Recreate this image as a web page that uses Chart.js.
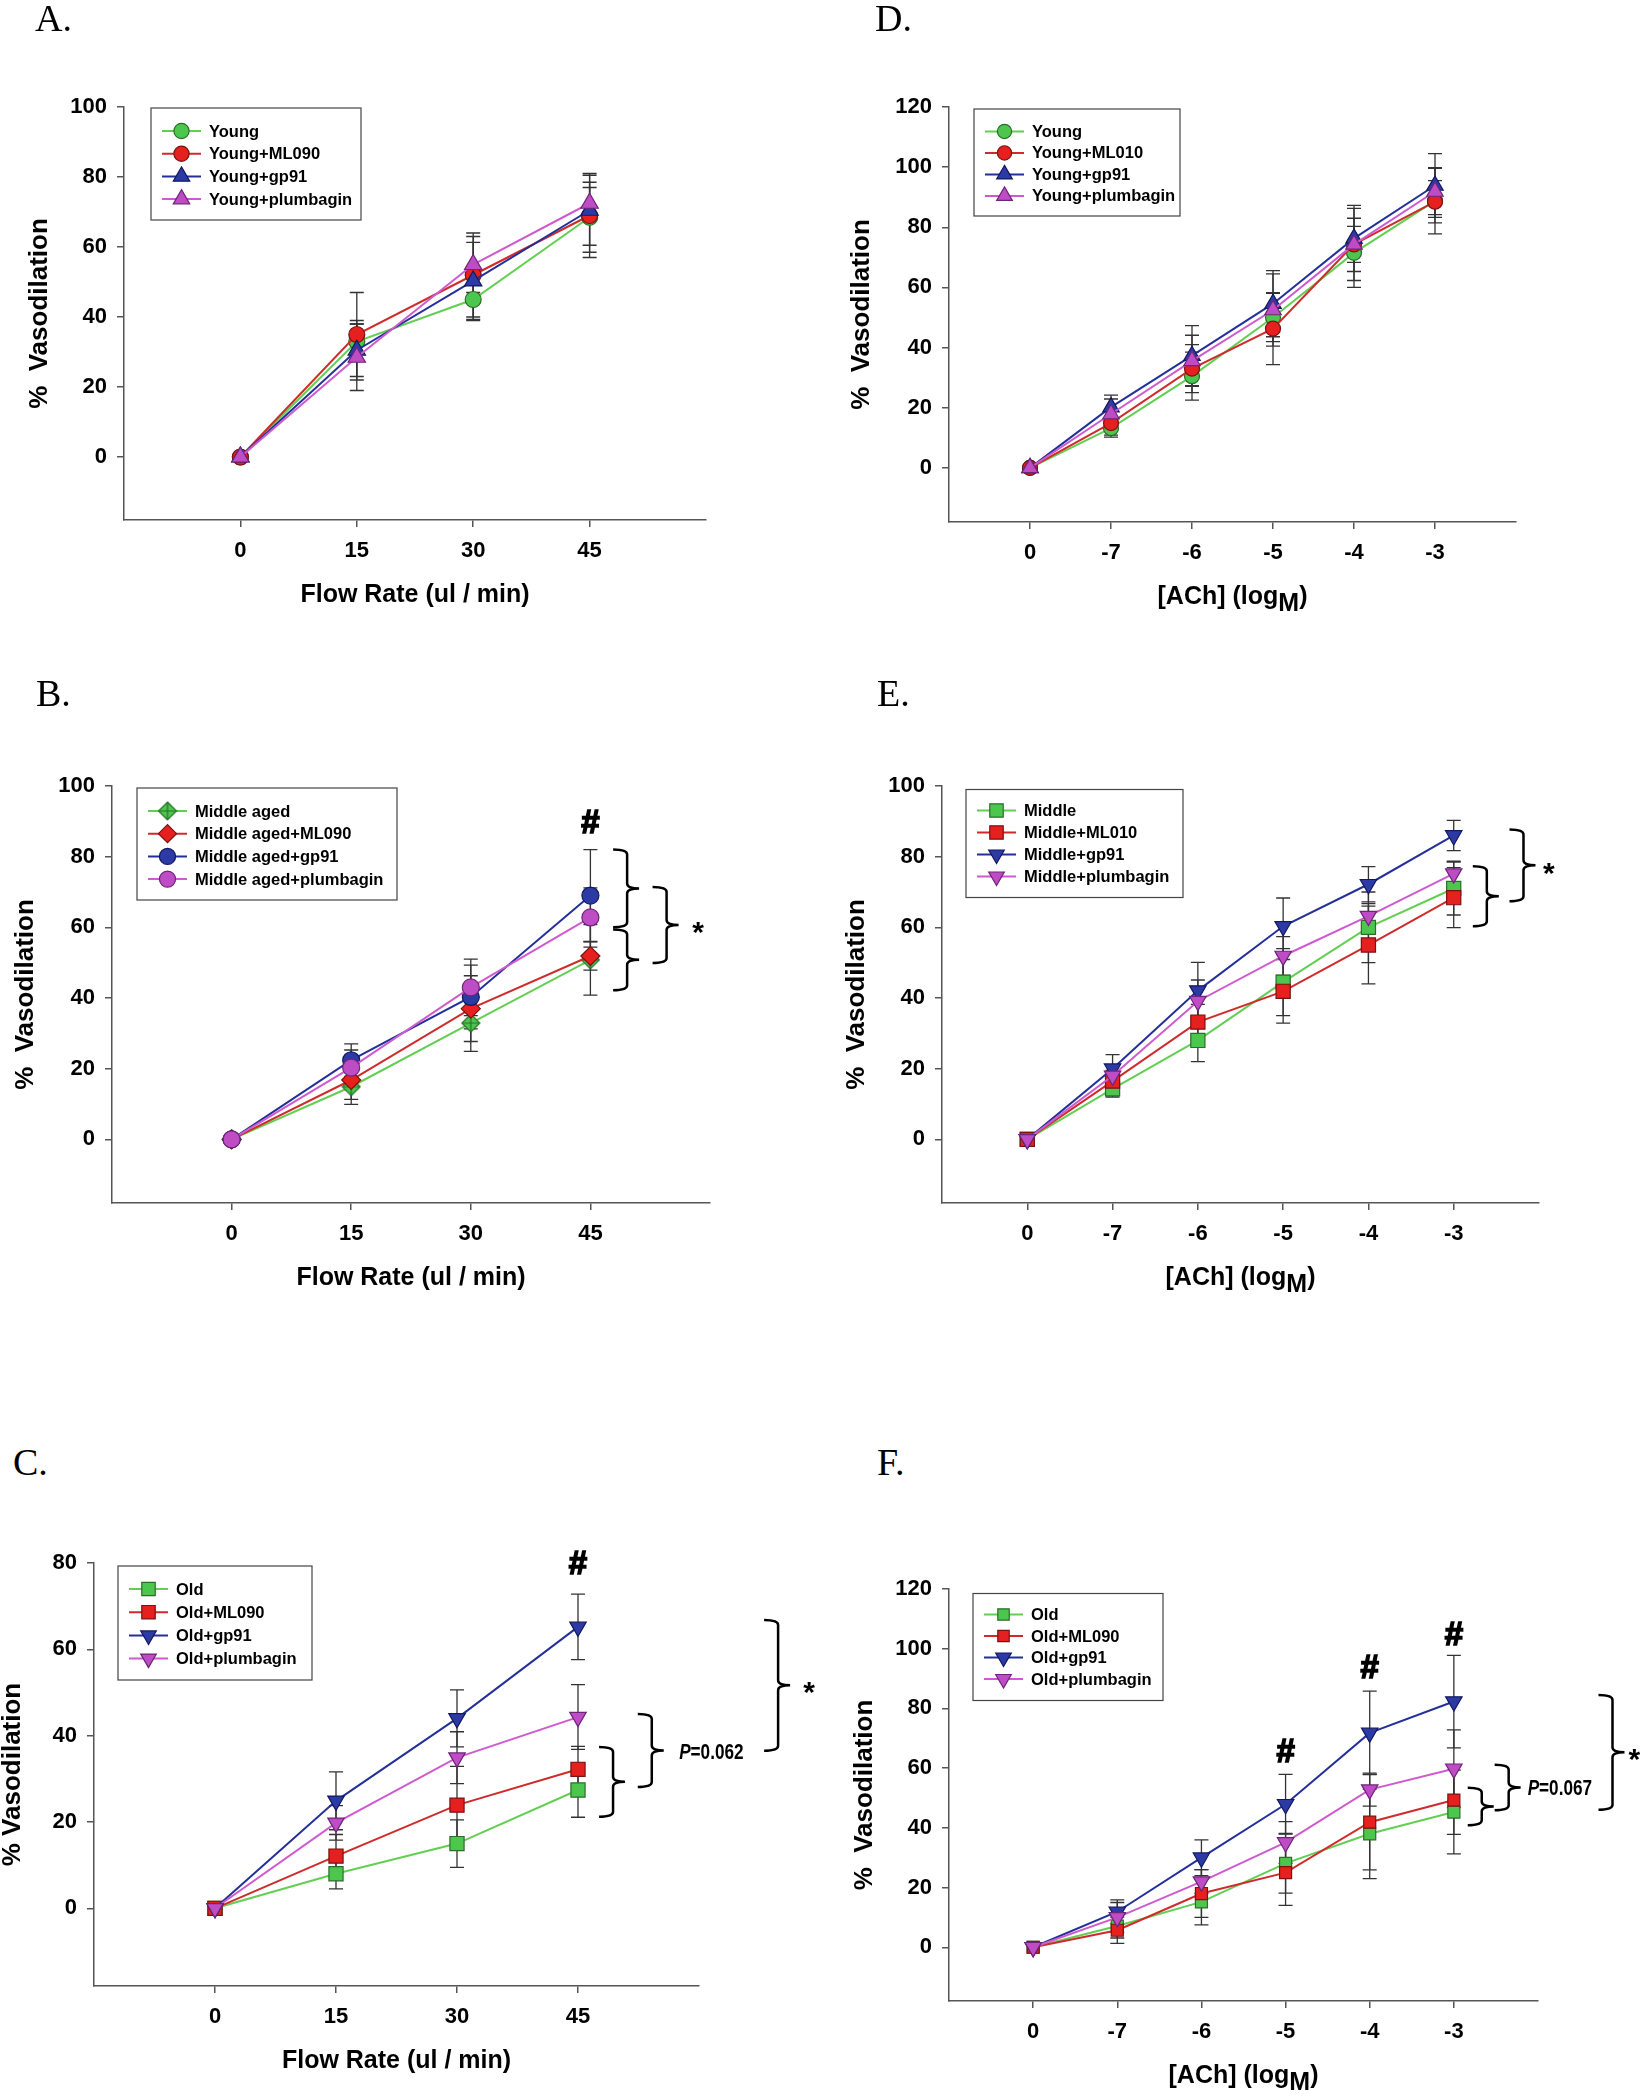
<!DOCTYPE html>
<html>
<head>
<meta charset="utf-8">
<title>Vasodilation panels</title>
<script src="https://cdn.jsdelivr.net/npm/chart.js@4.4.1/dist/chart.umd.min.js"></script>
<style>
  html, body { margin: 0; padding: 0; background: #fff; }
  body { width: 1643px; height: 2100px; position: relative; overflow: hidden; }
  canvas { position: absolute; }
  .tag { position: absolute; font-family: 'Liberation Serif', 'Times New Roman', serif; font-size: 38px; line-height: 38px; color: #000; z-index: 2; }
</style>
</head>
<body>
<div class="tag" style="left:35px;top:-1px">A.</div>
<div class="tag" style="left:875px;top:-1px">D.</div>
<div class="tag" style="left:36px;top:674px">B.</div>
<div class="tag" style="left:877px;top:674px">E.</div>
<div class="tag" style="left:13px;top:1443px">C.</div>
<div class="tag" style="left:877px;top:1443px">F.</div>

<canvas id="chartA"></canvas>
<canvas id="chartD"></canvas>
<canvas id="chartB"></canvas>
<canvas id="chartE"></canvas>
<canvas id="chartC"></canvas>
<canvas id="chartF"></canvas>

<script>
'use strict';

// categories (x axis)
let flowRates = ['0', '15', '30', '45'];
let achDoses = ['0', '-7', '-6', '-5', '-4', '-3'];

// y tick labels
let ticksTo80 = [0, 20, 40, 60, 80];
let ticksTo100 = [0, 20, 40, 60, 80, 100];
let ticksTo120 = [0, 20, 40, 60, 80, 100, 120];

// A. young, flow
let aYoung = [0, 33, 45, 68.5];
let aYoungErr = [0, 5, 6, 10];
let aYoungMl = [0, 35, 52, 69];
let aYoungMlErr = [0, 12, 12, 12];
let aYoungGp = [0, 30.5, 50.3, 70.5];
let aYoungGpErr = [0, 8.5, 11, 10];
let aYoungPl = [0, 28.5, 55, 72.5];
let aYoungPlErr = [0, 9.5, 8, 4.5];

// D. young, ACh
let dYoung = [0, 13.2, 30.5, 50, 71.5, 88.8];
let dYoungErr = [0, 3, 8, 8, 11.5, 11];
let dYoungMl = [0, 14.9, 33, 46.3, 74.3, 88.5];
let dYoungMlErr = [0, 4, 8, 12, 6, 7];
let dYoungGp = [0, 20.2, 37.3, 54.6, 76.3, 93.9];
let dYoungGpErr = [0, 4, 10, 11, 11, 10.6];
let dYoungPl = [0, 17.9, 35.6, 52.5, 74.3, 91.9];
let dYoungPlErr = [0, 5, 8.5, 12, 12, 7.7];

// B. middle aged, flow
let bMid = [0, 14.9, 32.9, 50.8];
let bMidErr = [0, 5, 8, 10];
let bMidMl = [0, 16.8, 37, 51.9];
let bMidMlErr = [0, 5.5, 9.3, 4];
let bMidGp = [0, 22.4, 40.3, 69];
let bMidGpErr = [0, 4.6, 9, 13];
let bMidPl = [0, 20.3, 43, 62.8];
let bMidPlErr = [0, 5, 8, 8.4];

// E. middle, ACh
let eMid = [0, 14.3, 28, 44.5, 60, 71];
let eMidErr = [0, 2.3, 6, 9.5, 10, 7.5];
let eMidMl = [0, 16.5, 33.2, 41.9, 55, 68.4];
let eMidMlErr = [0, 3, 5, 9, 11, 8.5];
let eMidGp = [0, 20, 42.1, 60.3, 72.2, 86];
let eMidGpErr = [0, 4, 8, 8, 5, 4.3];
let eMidPl = [0, 18, 39.1, 51.9, 63.2, 75.2];
let eMidPlErr = [0, 3, 6, 5.5, 3.5, 3.5];

// C. old, flow
let cOld = [0, 8, 15, 27.4];
let cOldErr = [0, 3.5, 5.5, 6.3];
let cOldMl = [0, 12.1, 23.9, 32.2];
let cOldMlErr = [0, 5, 9, 5.3];
let cOldGp = [0, 24.9, 44, 65.2];
let cOldGpErr = [0, 6.7, 6.6, 7.6];
let cOldPl = [0, 19.8, 34.9, 44.3];
let cOldPlErr = [0, 4, 6, 7.5];

// F. old, ACh
let fOld = [0, 7.1, 15.2, 28.1, 38, 45.3];
let fOldErr = [0, 4, 7.7, 10, 15, 14];
let fOldMl = [0, 5.7, 18, 25, 41.9, 49.3];
let fOldMlErr = [0, 4.4, 8, 11, 16, 11.5];
let fOldGp = [0, 11.9, 30, 47.9, 71.8, 82.3];
let fOldGpErr = [0, 4, 6, 10, 14, 15.5];
let fOldPl = [0, 10, 22, 35.1, 52.8, 59.8];
let fOldPlErr = [0, 5, 4, 7, 5.5, 13];


// look
let FONT = "'Liberation Sans', Arial, Helvetica, sans-serif";
let GREEN = {line: '#63cf52', fill: '#4cc64c', edge: '#2a6e2a'};
let RED = {line: '#cf2b2b', fill: '#e5201e', edge: '#7a1212'};
let BLUE = {line: '#24309a', fill: '#2c3aa6', edge: '#141860'};
let MAGENTA = {line: '#cf5acf', fill: '#be4cc4', edge: '#6e2478'};

// diamond with a cross in it (middle aged marker)
function crossDiamond(r, look) {
  let c = document.createElement('canvas');
  c.width = c.height = 2 * r + 2;
  let g = c.getContext('2d');
  let m = r + 1;
  g.beginPath();
  g.moveTo(m, 1);
  g.lineTo(2 * r + 1, m);
  g.lineTo(m, 2 * r + 1);
  g.lineTo(1, m);
  g.closePath();
  g.fillStyle = look.fill;
  g.fill();
  g.strokeStyle = look.edge;
  g.lineWidth = 1.2;
  g.stroke();
  g.beginPath();
  g.moveTo(m, 2); g.lineTo(m, 2 * r);
  g.moveTo(2, m); g.lineTo(2 * r, m);
  g.stroke();
  return c;
}

// legend marker, same shapes as chart.js draws
function drawMarker(ctx, s, x, y, r) {
  ctx.save();
  ctx.fillStyle = s.look.fill;
  ctx.strokeStyle = s.look.edge;
  ctx.lineWidth = 1.2;
  ctx.beginPath();
  if (typeof s.shape !== 'string') {
    ctx.drawImage(s.shape, x - s.shape.width / 2, y - s.shape.height / 2);
    ctx.restore();
    return;
  }
  if (s.shape === 'circle') {
    ctx.arc(x, y, r, 0, Math.PI * 2);
  } else if (s.shape === 'triangle') {
    let rad = (s.rot || 0) * Math.PI / 180;
    for (let k = 0; k < 3; k++) {
      let a = rad + k * 2 * Math.PI / 3;
      if (k === 0) ctx.moveTo(x + Math.sin(a) * r, y - Math.cos(a) * r);
      else ctx.lineTo(x + Math.sin(a) * r, y - Math.cos(a) * r);
    }
    ctx.closePath();
  } else if (s.shape === 'rect') {
    let h = r * Math.SQRT1_2;
    ctx.rect(x - h, y - h, 2 * h, 2 * h);
  } else if (s.shape === 'rectRot') {
    ctx.moveTo(x - r, y); ctx.lineTo(x, y - r); ctx.lineTo(x + r, y); ctx.lineTo(x, y + r);
    ctx.closePath();
  }
  ctx.fill();
  ctx.stroke();
  ctx.restore();
}

function drawBrace(ctx, x, yTop, yBot) {
  let stub = 14, tip = 12, r = 5;
  let xs = x + stub;
  let ym = (yTop + yBot) / 2;
  ctx.beginPath();
  ctx.moveTo(x, yTop);
  ctx.quadraticCurveTo(xs, yTop, xs, yTop + r);
  ctx.lineTo(xs, ym - r);
  ctx.quadraticCurveTo(xs, ym, xs + tip, ym);
  ctx.moveTo(xs + tip, ym);
  ctx.quadraticCurveTo(xs, ym, xs, ym + r);
  ctx.lineTo(xs, yBot - r);
  ctx.quadraticCurveTo(xs, yBot, x, yBot);
  ctx.stroke();
}

function panelPlugin(p) {
  return {
    id: 'panelExtras',
    beforeDatasetsDraw(chart) {
      let ctx = chart.ctx;
      let xs = chart.scales.x;
      let ys = chart.scales.y;
      ctx.save();
      ctx.strokeStyle = '#333';
      ctx.lineWidth = 1.3;
      p.series.forEach(s => {
        s.values.forEach((v, i) => {
          let e = s.errors[i];
          if (!e) return;
          let x = xs.getPixelForValue(i);
          let yHi = ys.getPixelForValue(v + e);
          let yLo = ys.getPixelForValue(v - e);
          ctx.beginPath();
          ctx.moveTo(x, yHi); ctx.lineTo(x, yLo);
          ctx.moveTo(x - 7, yHi); ctx.lineTo(x + 7, yHi);
          ctx.moveTo(x - 7, yLo); ctx.lineTo(x + 7, yLo);
          ctx.stroke();
        });
      });
      ctx.restore();
    },
    afterDraw(chart) {
      let ctx = chart.ctx;
      let area = chart.chartArea;
      let xs = chart.scales.x;
      let ys = chart.scales.y;
      ctx.save();
      ctx.fillStyle = '#000';

      // x axis title, pieces may drop below the line (subscript M)
      ctx.font = 'bold 25px ' + FONT;
      ctx.textBaseline = 'middle';
      ctx.textAlign = 'left';
      let total = p.xTitle.reduce((w, part) => w + ctx.measureText(part[0]).width, 0);
      let tx = (area.left + area.right) / 2 - total / 2;
      let ty = area.bottom + 75;
      p.xTitle.forEach(part => {
        ctx.fillText(part[0], tx, ty + part[1]);
        tx += ctx.measureText(part[0]).width;
      });

      // legend box
      let lg = p.legend;
      let lx = area.left + lg.dx;
      let ly = area.top + lg.dy;
      ctx.strokeStyle = '#444';
      ctx.lineWidth = 1.2;
      ctx.strokeRect(lx, ly, lg.w, lg.h);
      ctx.font = 'bold 16.5px ' + FONT;
      p.series.forEach((s, i) => {
        let y = ly + lg.first + i * lg.gap;
        ctx.strokeStyle = s.look.line;
        ctx.lineWidth = 2;
        ctx.beginPath();
        ctx.moveTo(lx + 11, y); ctx.lineTo(lx + 50, y);
        ctx.stroke();
        drawMarker(ctx, s, lx + 30.5, y, s.size * 0.95);
        ctx.fillStyle = '#000';
        ctx.fillText(s.label, lx + 58, y + 1);
      });

      // significance marks
      ctx.strokeStyle = '#000';
      ctx.lineWidth = 2.5;
      p.notes.forEach(n => {
        let x = xs.getPixelForValue(n.x);
        if (n.kind === 'hash') {
          let y = ys.getPixelForValue(n.y);
          ctx.font = 'bold 33px ' + FONT;
          ctx.textAlign = 'center';
          ctx.textBaseline = 'alphabetic';
          ctx.fillText('#', x, y + 11);
          ctx.save();
          ctx.lineWidth = 1.6;
          ctx.strokeText('#', x, y + 11);
          ctx.restore();
        } else if (n.kind === 'star') {
          let y = ys.getPixelForValue(n.y);
          ctx.font = 'bold 30px ' + FONT;
          ctx.textAlign = 'center';
          ctx.textBaseline = 'alphabetic';
          ctx.fillText('*', x, y + 17);
        } else if (n.kind === 'brace') {
          drawBrace(ctx, x, ys.getPixelForValue(n.from), ys.getPixelForValue(n.to));
        } else if (n.kind === 'p') {
          let y = ys.getPixelForValue(n.y);
          ctx.save();
          ctx.translate(x, y + 8);
          ctx.scale(0.78, 1);
          ctx.textAlign = 'left';
          ctx.textBaseline = 'alphabetic';
          ctx.font = 'italic bold 22px ' + FONT;
          ctx.fillText('P', 0, 0);
          let w = ctx.measureText('P').width;
          ctx.font = 'bold 22px ' + FONT;
          ctx.fillText(n.text, w, 0);
          ctx.restore();
        }
      });
      ctx.restore();
    }
  };
}

function makePanel(p) {
  let canvas = document.getElementById(p.id);
  let left = p.canvasLeft;
  let top = p.box.top - 80;
  let right = p.canvasRight;
  let bottom = p.box.bottom + 100;
  canvas.style.left = left + 'px';
  canvas.style.top = top + 'px';
  canvas.width = right - left;
  canvas.height = bottom - top;

  let n = p.series.length;
  let axisGrid = {drawOnChartArea: false, drawTicks: true, tickLength: 7, color: '#555', lineWidth: 1.5};
  let axisBorder = {color: '#555', width: 1.5};
  let tickFont = {family: FONT, size: 22, weight: 'bold'};

  new Chart(canvas, {
    type: 'line',
    data: {
      datasets: p.series.map((s, i) => ({
        label: s.label,
        data: s.values.map((v, k) => ({x: k, y: v})),
        order: n - i,
        borderColor: s.look.line,
        borderWidth: 2,
        pointStyle: s.shape,
        pointRotation: s.rot || 0,
        pointRadius: s.size,
        pointHoverRadius: s.size,
        pointBackgroundColor: s.look.fill,
        pointBorderColor: s.look.edge,
        pointBorderWidth: 1.2,
        tension: 0,
        fill: false,
        clip: false
      }))
    },
    options: {
      responsive: false,
      animation: false,
      devicePixelRatio: 1,
      events: [],
      layout: {padding: {left: 0, top: 80, right: right - p.box.right, bottom: 0}},
      plugins: {legend: {display: false}, tooltip: {enabled: false}},
      scales: {
        x: {
          type: 'linear',
          min: -1,
          max: p.cats.length,
          afterBuildTicks: ax => { ax.ticks = p.cats.map((c, i) => ({value: i})); },
          afterFit: ax => { ax.height = 100; },
          ticks: {callback: v => p.cats[v], font: tickFont, color: '#000', padding: 11, maxRotation: 0, autoSkip: false},
          grid: axisGrid,
          border: axisBorder
        },
        y: {
          min: -18,
          max: p.yTicks[p.yTicks.length - 1],
          afterBuildTicks: ax => { ax.ticks = p.yTicks.map(v => ({value: v})); },
          afterFit: ax => { ax.width = p.box.left - left; },
          ticks: {font: tickFont, color: '#000', padding: 10},
          grid: axisGrid,
          border: axisBorder,
          title: {
            display: true,
            text: p.yTitle,
            color: '#000',
            font: {family: FONT, size: 26, weight: 'bold', lineHeight: 1},
            padding: {top: p.yTitlePad, bottom: 0}
          }
        }
      }
    },
    plugins: [panelPlugin(p)]
  });
}

let flowTitle = [['Flow Rate (ul / min)', 0]];
let achTitle = [['[ACh] (log', 0], ['M', 7], [')', 0]];

makePanel({
  id: 'chartA', cats: flowRates, yTicks: ticksTo100,
  box: {left: 124, top: 107, right: 706, bottom: 520}, canvasLeft: 0, canvasRight: 820,
  yTitle: '%  Vasodilation', yTitlePad: 27, xTitle: flowTitle,
  legend: {dx: 27, dy: 1, w: 210, h: 112, first: 23, gap: 22.7},
  series: [
    {label: 'Young', values: aYoung, errors: aYoungErr, look: GREEN, shape: 'circle', size: 8},
    {label: 'Young+ML090', values: aYoungMl, errors: aYoungMlErr, look: RED, shape: 'circle', size: 8},
    {label: 'Young+gp91', values: aYoungGp, errors: aYoungGpErr, look: BLUE, shape: 'triangle', size: 10},
    {label: 'Young+plumbagin', values: aYoungPl, errors: aYoungPlErr, look: MAGENTA, shape: 'triangle', size: 10}
  ],
  notes: []
});

makePanel({
  id: 'chartD', cats: achDoses, yTicks: ticksTo120,
  box: {left: 949, top: 107, right: 1516, bottom: 522}, canvasLeft: 820, canvasRight: 1643,
  yTitle: '%  Vasodilation', yTitlePad: 29, xTitle: achTitle,
  legend: {dx: 25, dy: 2, w: 206, h: 107, first: 22.4, gap: 21.5},
  series: [
    {label: 'Young', values: dYoung, errors: dYoungErr, look: GREEN, shape: 'circle', size: 7.5},
    {label: 'Young+ML010', values: dYoungMl, errors: dYoungMlErr, look: RED, shape: 'circle', size: 7.5},
    {label: 'Young+gp91', values: dYoungGp, errors: dYoungGpErr, look: BLUE, shape: 'triangle', size: 9.5},
    {label: 'Young+plumbagin', values: dYoungPl, errors: dYoungPlErr, look: MAGENTA, shape: 'triangle', size: 9.5}
  ],
  notes: []
});

makePanel({
  id: 'chartB', cats: flowRates, yTicks: ticksTo100,
  box: {left: 112, top: 786, right: 710, bottom: 1203}, canvasLeft: 0, canvasRight: 820,
  yTitle: '%  Vasodilation', yTitlePad: 12.5, xTitle: flowTitle,
  legend: {dx: 25, dy: 2, w: 260, h: 112, first: 23, gap: 22.7},
  series: [
    {label: 'Middle aged', values: bMid, errors: bMidErr, look: GREEN, shape: crossDiamond(9, GREEN), size: 9},
    {label: 'Middle aged+ML090', values: bMidMl, errors: bMidMlErr, look: RED, shape: 'rectRot', size: 9.5},
    {label: 'Middle aged+gp91', values: bMidGp, errors: bMidGpErr, look: BLUE, shape: 'circle', size: 8.5},
    {label: 'Middle aged+plumbagin', values: bMidPl, errors: bMidPlErr, look: MAGENTA, shape: 'circle', size: 8.5}
  ],
  notes: [
    {kind: 'hash', x: 3, y: 89.9},
    {kind: 'brace', x: 3.19, from: 82, to: 60},
    {kind: 'brace', x: 3.19, from: 59.4, to: 42.2},
    {kind: 'brace', x: 3.52, from: 71.4, to: 49.9},
    {kind: 'star', x: 3.9, y: 60.6}
  ]
});

makePanel({
  id: 'chartE', cats: achDoses, yTicks: ticksTo100,
  box: {left: 942, top: 786, right: 1539, bottom: 1203}, canvasLeft: 820, canvasRight: 1643,
  yTitle: '%  Vasodilation', yTitlePad: 24, xTitle: achTitle,
  legend: {dx: 24, dy: 3.5, w: 217, h: 108, first: 21, gap: 22},
  series: [
    {label: 'Middle', values: eMid, errors: eMidErr, look: GREEN, shape: 'rect', size: 10},
    {label: 'Middle+ML010', values: eMidMl, errors: eMidMlErr, look: RED, shape: 'rect', size: 10},
    {label: 'Middle+gp91', values: eMidGp, errors: eMidGpErr, look: BLUE, shape: 'triangle', rot: 180, size: 9.5},
    {label: 'Middle+plumbagin', values: eMidPl, errors: eMidPlErr, look: MAGENTA, shape: 'triangle', rot: 180, size: 9.5}
  ],
  notes: [
    {kind: 'brace', x: 5.224, from: 77.3, to: 60.3},
    {kind: 'brace', x: 5.654, from: 87.7, to: 67.4},
    {kind: 'star', x: 6.115, y: 77.3}
  ]
});

makePanel({
  id: 'chartC', cats: flowRates, yTicks: ticksTo80,
  box: {left: 94, top: 1563, right: 699, bottom: 1986}, canvasLeft: 0, canvasRight: 820,
  yTitle: '% Vasodilation', yTitlePad: 0, xTitle: flowTitle,
  legend: {dx: 24, dy: 3, w: 194, h: 114, first: 23, gap: 23.2},
  series: [
    {label: 'Old', values: cOld, errors: cOldErr, look: GREEN, shape: 'rect', size: 10},
    {label: 'Old+ML090', values: cOldMl, errors: cOldMlErr, look: RED, shape: 'rect', size: 10},
    {label: 'Old+gp91', values: cOldGp, errors: cOldGpErr, look: BLUE, shape: 'triangle', rot: 180, size: 9.5},
    {label: 'Old+plumbagin', values: cOldPl, errors: cOldPlErr, look: MAGENTA, shape: 'triangle', rot: 180, size: 9.5}
  ],
  notes: [
    {kind: 'hash', x: 3, y: 80},
    {kind: 'brace', x: 3.174, from: 37.4, to: 21.2},
    {kind: 'brace', x: 3.494, from: 45, to: 28.1},
    {kind: 'brace', x: 4.538, from: 66.8, to: 36.5},
    {kind: 'p', x: 3.836, y: 36.5, text: '=0.062'},
    {kind: 'star', x: 4.91, y: 51.7}
  ]
});

makePanel({
  id: 'chartF', cats: achDoses, yTicks: ticksTo120,
  box: {left: 949, top: 1589, right: 1538, bottom: 2001}, canvasLeft: 820, canvasRight: 1643,
  yTitle: '%  Vasodilation', yTitlePad: 32, xTitle: achTitle,
  legend: {dx: 24, dy: 4.5, w: 190, h: 107, first: 21, gap: 21.5},
  series: [
    {label: 'Old', values: fOld, errors: fOldErr, look: GREEN, shape: 'rect', size: 8.5},
    {label: 'Old+ML090', values: fOldMl, errors: fOldMlErr, look: RED, shape: 'rect', size: 8.5},
    {label: 'Old+gp91', values: fOldGp, errors: fOldGpErr, look: BLUE, shape: 'triangle', rot: 180, size: 9.5},
    {label: 'Old+plumbagin', values: fOldPl, errors: fOldPlErr, look: MAGENTA, shape: 'triangle', rot: 180, size: 9.5}
  ],
  notes: [
    {kind: 'hash', x: 3, y: 65.6},
    {kind: 'hash', x: 4, y: 93.8},
    {kind: 'hash', x: 5, y: 104.8},
    {kind: 'brace', x: 5.165, from: 53.4, to: 40.9},
    {kind: 'brace', x: 5.485, from: 61.1, to: 45.9},
    {kind: 'brace', x: 6.719, from: 84.5, to: 46.1},
    {kind: 'p', x: 5.877, y: 53.6, text: '=0.067'},
    {kind: 'star', x: 7.146, y: 65.3}
  ]
});
</script>
</body>
</html>
